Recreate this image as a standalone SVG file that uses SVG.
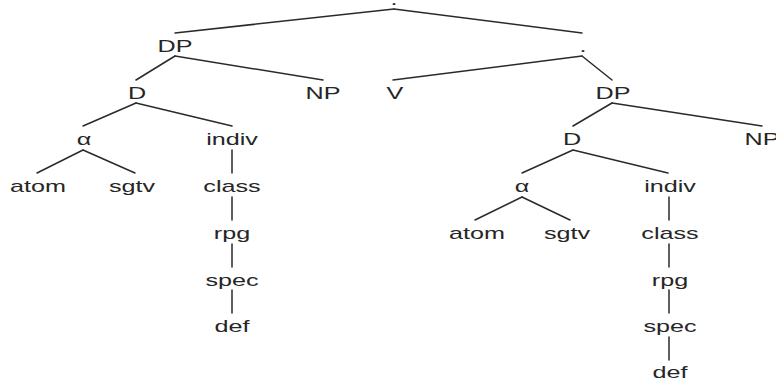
<svg xmlns="http://www.w3.org/2000/svg" width="776" height="385" viewBox="0 0 776 385">
<style>
.t{font-family:"Liberation Sans",Arial,sans-serif;font-size:17px;fill:#262626;text-anchor:middle}
.e line{stroke:#2a2a2a;stroke-width:1.5;stroke-linecap:round}
</style>
<rect width="776" height="385" fill="#fff"/>
<g class="e" id="connectors">
<line x1="394" y1="9" x2="175" y2="33"/>
<line x1="394" y1="9" x2="582" y2="33"/>
<line x1="175" y1="56" x2="136" y2="80"/>
<line x1="175" y1="56" x2="323" y2="80"/>
<line x1="136" y1="103" x2="83" y2="126"/>
<line x1="136" y1="103" x2="232" y2="126"/>
<line x1="83" y1="150" x2="37" y2="173"/>
<line x1="83" y1="150" x2="135" y2="173"/>
<line x1="232" y1="150" x2="232" y2="173"/>
<line x1="232" y1="197" x2="232" y2="220"/>
<line x1="232" y1="244" x2="232" y2="267"/>
<line x1="232" y1="290" x2="232" y2="313"/>
<line x1="582" y1="56" x2="393" y2="80"/>
<line x1="582" y1="56" x2="612" y2="80"/>
<line x1="612" y1="103" x2="573" y2="126"/>
<line x1="612" y1="103" x2="762" y2="126"/>
<line x1="573" y1="150" x2="522" y2="173"/>
<line x1="573" y1="150" x2="668" y2="173"/>
<line x1="522" y1="197" x2="475" y2="220"/>
<line x1="522" y1="197" x2="570" y2="220"/>
<line x1="669" y1="197" x2="669" y2="220"/>
<line x1="669" y1="244" x2="669" y2="267"/>
<line x1="669" y1="290" x2="669" y2="313"/>
<line x1="669" y1="337" x2="669" y2="360"/>
</g>
<g id="root"><text class="t" transform="translate(394,5) scale(1.48,1)">.</text></g>
<g id="dp1"><text class="t" transform="translate(175,52) scale(1.48,1)">DP</text></g>
<g id="d1"><text class="t" transform="translate(137,99) scale(1.48,1)">D</text></g>
<g id="np1"><text class="t" transform="translate(323,99) scale(1.48,1)">NP</text></g>
<g id="alpha1"><text class="t" transform="translate(84,145) scale(1.48,1)">α</text></g>
<g id="indiv1"><text class="t" transform="translate(232,145) scale(1.48,1)">indiv</text></g>
<g id="atom1"><text class="t" transform="translate(38,192) scale(1.48,1)">atom</text></g>
<g id="sgtv1"><text class="t" transform="translate(132,192) scale(1.48,1)">sgtv</text></g>
<g id="class1"><text class="t" transform="translate(232,192) scale(1.48,1)">class</text></g>
<g id="rpg1"><text class="t" transform="translate(232,239) scale(1.48,1)">rpg</text></g>
<g id="spec1"><text class="t" transform="translate(232,286) scale(1.48,1)">spec</text></g>
<g id="def1"><text class="t" transform="translate(232,332) scale(1.48,1)">def</text></g>
<g id="vbar"><text class="t" transform="translate(583,52) scale(1.48,1)">.</text></g>
<g id="v"><text class="t" transform="translate(395,99) scale(1.48,1)">V</text></g>
<g id="dp2"><text class="t" transform="translate(613,99) scale(1.48,1)">DP</text></g>
<g id="d2"><text class="t" transform="translate(572,145) scale(1.48,1)">D</text></g>
<g id="np2"><text class="t" transform="translate(762,145) scale(1.48,1)">NP</text></g>
<g id="alpha2"><text class="t" transform="translate(522,192) scale(1.48,1)">α</text></g>
<g id="indiv2"><text class="t" transform="translate(670,192) scale(1.48,1)">indiv</text></g>
<g id="atom2"><text class="t" transform="translate(477,239) scale(1.48,1)">atom</text></g>
<g id="sgtv2"><text class="t" transform="translate(567,239) scale(1.48,1)">sgtv</text></g>
<g id="class2"><text class="t" transform="translate(670,239) scale(1.48,1)">class</text></g>
<g id="rpg2"><text class="t" transform="translate(670,286) scale(1.48,1)">rpg</text></g>
<g id="spec2"><text class="t" transform="translate(670,332) scale(1.48,1)">spec</text></g>
<g id="def2"><text class="t" transform="translate(670,378) scale(1.48,1)">def</text></g>
</svg>
